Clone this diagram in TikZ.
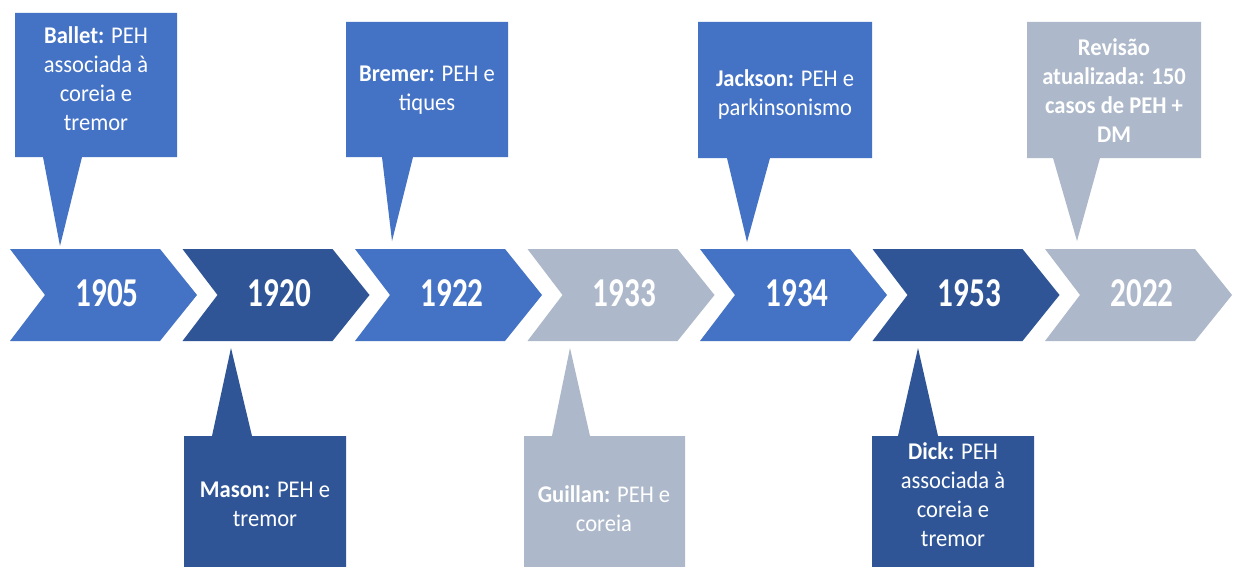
\documentclass[tikz,border=0pt]{standalone}
\usepackage{fontspec}
\setmainfont{Carlito}
\newfontfamily\yearfont[FakeStretch=0.76]{Carlito}
\newfontfamily\callfont[FakeStretch=0.94]{Carlito}
\definecolor{cBlue}{HTML}{4472C4}
\definecolor{cDark}{HTML}{2F5597}
\definecolor{cGrey}{HTML}{ADB9CA}
\begin{document}
\begin{tikzpicture}[x=1pt,y=-1pt,
  yeartext/.style={text=white,inner sep=0pt,font=\yearfont\bfseries\fontsize{41}{41}\selectfont},
  calltext/.style={text=white,align=center,inner sep=0pt,font=\callfont\fontsize{24}{29}\selectfont}]
\useasboundingbox[fill=white] (0,0) rectangle (1233,567);

% chevrons
\foreach \i/\c/\yr in {0/cBlue/1905,1/cDark/1920,2/cBlue/1922,3/cGrey/1933,4/cBlue/1934,5/cDark/1953,6/cGrey/2022}{
  \pgfmathsetmacro\L{10+172.5*\i}
  \fill[\c] (\L,249) -- ++(150,0) -- ++(37,46) -- ++(-37,46) -- ++(-150,0) -- ++(35,-46) -- cycle;
  \node[yeartext] (y\yr) at (\L+97,293) {\yr};
}

% top callouts
\fill[cBlue] (15,13) -- (177,13) -- (177,157) -- (82,157) -- (60,246) -- (43,157) -- (15,157) -- cycle;
\node[calltext] (ballet) at (96,79) {\textbf{Ballet:} PEH\\associada à\\coreia e\\tremor};

\fill[cBlue] (346,22) -- (508,22) -- (508,157) -- (413,157) -- (392,241) -- (382,157) -- (346,157) -- cycle;
\node[calltext] (bremer) at (427,90) {\textbf{Bremer:} PEH e\\tiques};

\fill[cBlue] (698,22) -- (872,22) -- (872,158) -- (770,158) -- (747,242) -- (727,158) -- (698,158) -- cycle;
\node[calltext] (jackson) at (785,95) {\textbf{Jackson:} PEH e\\parkinsonismo};

\fill[cGrey] (1027,22) -- (1201,22) -- (1201,158) -- (1100,158) -- (1077,241) -- (1053,158) -- (1027,158) -- cycle;
\node[calltext] (revisao) at (1114,91) {\textbf{Revisão}\\\textbf{atualizada: 150}\\\textbf{casos de PEH +}\\\textbf{DM}};

% bottom callouts
\fill[cDark] (184,570) -- (184,436) -- (212,436) -- (231,348) -- (252,436) -- (346,436) -- (346,570) -- cycle;
\node[calltext] (mason) at (265,504) {\textbf{Mason:} PEH e\\tremor};

\fill[cGrey] (524,570) -- (524,436) -- (552,436) -- (570,348) -- (590,436) -- (685,436) -- (685,570) -- cycle;
\node[calltext] (guillan) at (604,509) {\textbf{Guillan:} PEH e\\coreia};

\fill[cDark] (872,570) -- (872,436) -- (898,436) -- (918,348) -- (938,436) -- (1034,436) -- (1034,570) -- cycle;
\node[calltext] (dick) at (953,495) {\textbf{Dick:} PEH\\associada à\\coreia e\\tremor};
\end{tikzpicture}
\end{document}
